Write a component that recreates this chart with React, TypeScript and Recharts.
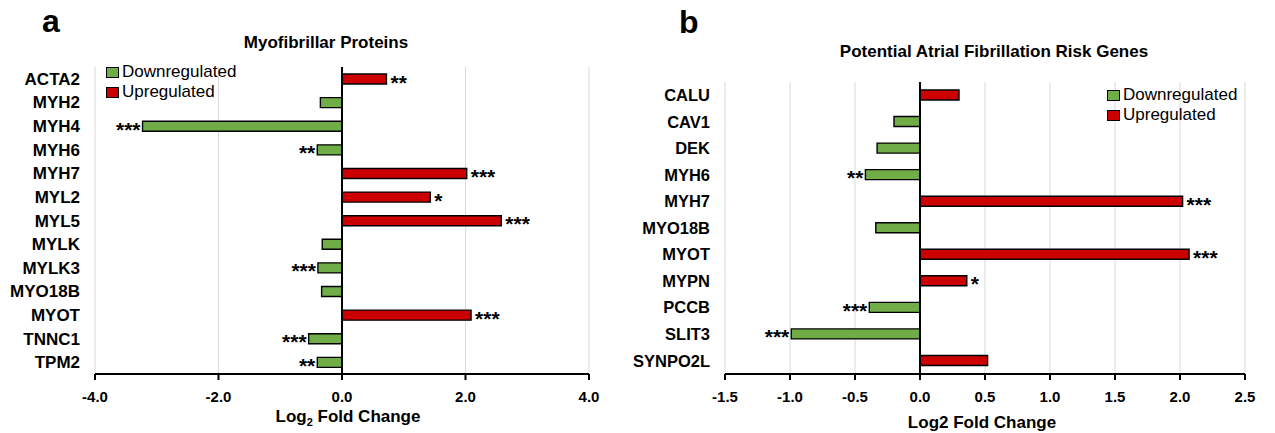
import React from 'react';
import {
  BarChart,
  Bar,
  XAxis,
  YAxis,
  CartesianGrid,
  ReferenceLine,
  Legend,
  LabelList,
  Label,
} from 'recharts';

// panel a - myofibrillar proteins
const genesA = ['ACTA2', 'MYH2', 'MYH4', 'MYH6', 'MYH7', 'MYL2', 'MYL5', 'MYLK', 'MYLK3', 'MYO18B', 'MYOT', 'TNNC1', 'TPM2'];
const foldA = [0.72, -0.35, -3.23, -0.4, 2.02, 1.43, 2.58, -0.32, -0.39, -0.33, 2.09, -0.54, -0.4];
const sigA = ['**', '', '***', '**', '***', '*', '***', '', '***', '', '***', '***', '**'];
const ticksA = [-4, -2, 0, 2, 4];

// panel b - potential AF risk genes
const genesB = ['CALU', 'CAV1', 'DEK', 'MYH6', 'MYH7', 'MYO18B', 'MYOT', 'MYPN', 'PCCB', 'SLIT3', 'SYNPO2L'];
const foldB = [0.3, -0.2, -0.33, -0.42, 2.02, -0.34, 2.07, 0.36, -0.39, -0.99, 0.52];
const sigB = ['', '', '', '**', '***', '', '***', '*', '***', '***', ''];
const ticksB = [-1.5, -1.0, -0.5, 0, 0.5, 1.0, 1.5, 2.0, 2.5];

const GREEN = '#70ad47';
const RED = '#cc0000';
const FONT = '"Liberation Sans", Arial, Helvetica, sans-serif';

const buildRows = (genes: string[], vals: number[], sig: string[]) =>
  genes.map((g, i) => ({
    gene: g,
    down: vals[i] < 0 ? vals[i] : null,
    up: vals[i] > 0 ? vals[i] : null,
    sigDown: vals[i] < 0 ? sig[i] : '',
    sigUp: vals[i] > 0 ? sig[i] : '',
  }));

const rowsA = buildRows(genesA, foldA, sigA);
const rowsB = buildRows(genesB, foldB, sigB);

const starLabel = (side: 'left' | 'right') => (props: any) => {
  const { x, y, width, height, value } = props;
  if (!value) return null;
  const left = Math.min(x, x + width);
  const right = Math.max(x, x + width);
  return (
    <text
      x={side === 'right' ? right + 4 : left - 2}
      y={y + height / 2 + 10.5}
      textAnchor={side === 'right' ? 'start' : 'end'}
      fontFamily={FONT}
      fontWeight="bold"
      fontSize={21}
      fill="#000"
    >
      {value}
    </text>
  );
};

const LegendBox = () => {
  const items = [
    { name: 'Downregulated', color: GREEN },
    { name: 'Upregulated', color: RED },
  ];
  return (
    <div style={{ fontFamily: FONT, fontSize: 17, color: '#000', whiteSpace: 'nowrap' }}>
      {items.map((it) => (
        <div key={it.name} style={{ display: 'flex', alignItems: 'center', height: 20 }}>
          <span
            style={{
              display: 'inline-block',
              boxSizing: 'border-box',
              width: 13,
              height: 11,
              background: it.color,
              border: '1.5px solid #000',
              marginRight: 3,
            }}
          />
          <span>{it.name}</span>
        </div>
      ))}
    </div>
  );
};

const tickStyle = { fontFamily: FONT, fontWeight: 'bold' as const, fill: '#000' };

const Panel = ({ rows, ticks, width, margin, yWidth, yFont, legendPos, axisTitle }: any) => (
  <BarChart
    width={width}
    height={433}
    data={rows}
    layout="vertical"
    stackOffset="sign"
    margin={margin}
    barSize={10}
  >
    <CartesianGrid horizontal={false} stroke="#d9d9d9" strokeWidth={1} />
    <XAxis
      type="number"
      domain={[ticks[0], ticks[ticks.length - 1]]}
      ticks={ticks}
      tickFormatter={(v: number) => v.toFixed(1)}
      axisLine={{ stroke: '#000', strokeWidth: 2 }}
      tickLine={{ stroke: '#000', strokeWidth: 2 }}
      tickSize={6}
      tickMargin={11}
      tick={{ ...tickStyle, fontSize: 15 }}
      height={59}
      interval={0}
    >
      <Label content={axisTitle} />
    </XAxis>
    <YAxis
      type="category"
      dataKey="gene"
      width={yWidth}
      axisLine={false}
      tickLine={false}
      tickSize={0}
      tickMargin={15}
      tick={{ ...tickStyle, fontSize: yFont }}
      interval={0}
    />
    <Legend
      layout="horizontal"
      verticalAlign="middle"
      align="center"
      content={LegendBox}
      wrapperStyle={{ position: 'absolute', left: legendPos.left, top: legendPos.top, width: 'auto', height: 'auto' }}
    />
    <Bar dataKey="down" name="Downregulated" stackId="s" fill={GREEN} stroke="#000" strokeWidth={1.4} isAnimationActive={false}>
      <LabelList dataKey="sigDown" content={starLabel('left')} />
    </Bar>
    <Bar dataKey="up" name="Upregulated" stackId="s" fill={RED} stroke="#000" strokeWidth={1.4} isAnimationActive={false}>
      <LabelList dataKey="sigUp" content={starLabel('right')} />
    </Bar>
    <ReferenceLine x={0} stroke="#000" strokeWidth={2} />
  </BarChart>
);

const titleA = (props: any) => {
  const { viewBox } = props;
  const cx = viewBox.x + viewBox.width / 2 + 6;
  return (
    <text x={cx} y={422} textAnchor="middle" fontFamily={FONT} fontWeight="bold" fontSize={17} fill="#000">
      Log
      <tspan fontSize={11} dy={4}>2</tspan>
      <tspan dy={-4}> Fold Change</tspan>
    </text>
  );
};

const titleB = (props: any) => {
  const { viewBox } = props;
  const cx = viewBox.x + viewBox.width / 2 - 3;
  return (
    <text x={cx} y={428} textAnchor="middle" fontFamily={FONT} fontWeight="bold" fontSize={17} fill="#000">
      Log2 Fold Change
    </text>
  );
};

export default function App() {
  return (
    <div style={{ position: 'absolute', left: 0, top: 0, width: 1275, height: 433, background: '#fff', overflow: 'hidden' }}>
      <div style={{ position: 'absolute', left: 0, top: 0 }}>
        <Panel
          rows={rowsA}
          ticks={ticksA}
          width={640}
          margin={{ top: 67, right: 51, bottom: 0, left: 0 }}
          yWidth={95}
          yFont={17}
          legendPos={{ left: 106, top: 62 }}
          axisTitle={titleA}
        />
      </div>
      <div style={{ position: 'absolute', left: 600, top: 0 }}>
        <Panel
          rows={rowsB}
          ticks={ticksB}
          width={675}
          margin={{ top: 82, right: 30, bottom: 0, left: 0 }}
          yWidth={125}
          yFont={16.5}
          legendPos={{ left: 507, top: 85 }}
          axisTitle={titleB}
        />
      </div>
      <svg width={1275} height={433} style={{ position: 'absolute', left: 0, top: 0, pointerEvents: 'none' }}>
        <text x={42} y={32} fontFamily={FONT} fontWeight="bold" fontSize={32} fill="#000">a</text>
        <text x={679} y={33} fontFamily={FONT} fontWeight="bold" fontSize={32} fill="#000">b</text>
        <text x={326} y={48} textAnchor="middle" fontFamily={FONT} fontWeight="bold" fontSize={17} fill="#000">
          Myofibrillar Proteins
        </text>
        <text x={994} y={57} textAnchor="middle" fontFamily={FONT} fontWeight="bold" fontSize={17} fill="#000">
          Potential Atrial Fibrillation Risk Genes
        </text>
      </svg>
    </div>
  );
}
